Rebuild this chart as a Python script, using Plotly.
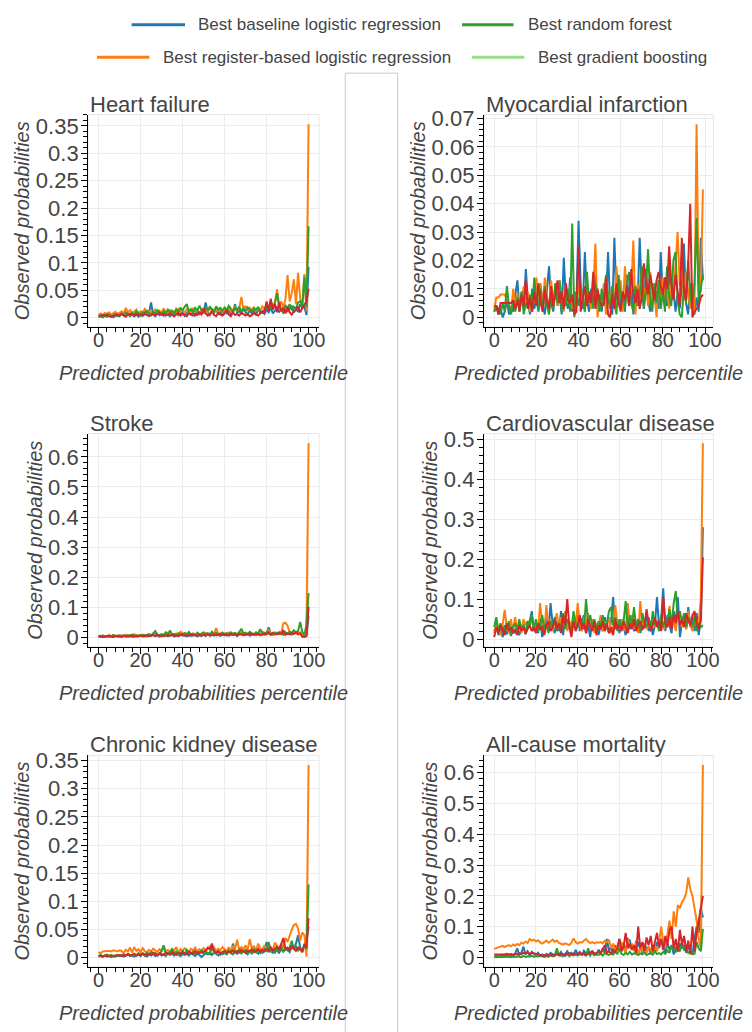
import plotly.graph_objects as go

W, H = 752, 1032

# ---------------- data ----------------
series_names = [
    "Best baseline logistic regression",
    "Best register-based logistic regression",
    "Best random forest",
    "Best gradient boosting",
]
line_colors = ["#1f77b4", "#ff7f0e", "#2ca02c", "#d62728"]
legend_colors = ["#1f77b4", "#ff7f0e", "#2ca02c", "#98df8a"]

panel_titles = [
    "Heart failure", "Myocardial infarction", "Stroke",
    "Cardiovascular disease", "Chronic kidney disease", "All-cause mortality",
]
x_title = "Predicted probabilities percentile"
y_title = "Observed probabilities"

percentiles_101 = list(range(0, 101))
percentiles_100 = list(range(0, 100))

# Heart failure
hf_baseline = [
    0.002, 0.003, 0.001, 0.004, 0.002, 0.005, 0.003, 0.001, 0.004, 0.006,
    0.003, 0.008, 0.005, 0.002, 0.007, 0.004, 0.009, 0.003, 0.006, 0.002,
    0.008, 0.004, 0.010, 0.005, 0.007, 0.028, 0.006, 0.003, 0.011, 0.005,
    0.009, 0.004, 0.012, 0.006, 0.003, 0.010, 0.007, 0.014, 0.005, 0.008,
    0.011, 0.004, 0.009, 0.013, 0.006, 0.010, 0.003, 0.012, 0.007, 0.015,
    0.008, 0.028, 0.010, 0.005, 0.013, 0.009, 0.016, 0.006, 0.011, 0.004,
    0.012, 0.008, 0.015, 0.006, 0.010, 0.025, 0.009, 0.013, 0.007, 0.018,
    0.010, 0.006, 0.014, 0.008, 0.012, 0.005, 0.016, 0.009, 0.011, 0.007,
    0.015, 0.010, 0.018, 0.008, 0.013, 0.020, 0.011, 0.016, 0.009, 0.014,
    0.012, 0.018, 0.022, 0.010, 0.015, 0.012, 0.025, 0.018, 0.020, 0.005,
    0.093]
hf_register = [
    0.006, 0.008, 0.005, 0.009, 0.007, 0.010, 0.006, 0.008, 0.011, 0.007,
    0.009, 0.012, 0.008, 0.018, 0.010, 0.014, 0.009, 0.011, 0.015, 0.008,
    0.012, 0.010, 0.016, 0.009, 0.013, 0.011, 0.008, 0.015, 0.010, 0.013,
    0.009, 0.017, 0.011, 0.008, 0.014, 0.010, 0.012, 0.009, 0.016, 0.011,
    0.013, 0.010, 0.015, 0.008, 0.012, 0.018, 0.010, 0.014, 0.009, 0.013,
    0.011, 0.016, 0.010, 0.019, 0.012, 0.009, 0.015, 0.011, 0.017, 0.010,
    0.014, 0.012, 0.018, 0.011, 0.016, 0.020, 0.013, 0.017, 0.038, 0.015,
    0.022, 0.012, 0.018, 0.014, 0.020, 0.011, 0.017, 0.013, 0.021, 0.016,
    0.025, 0.018, 0.030, 0.020, 0.028, 0.052, 0.022, 0.030, 0.018, 0.035,
    0.078, 0.030, 0.045, 0.070, 0.025, 0.082, 0.035, 0.020, 0.080, 0.012,
    0.353]
hf_forest = [
    0.002, 0.004, 0.001, 0.005, 0.003, 0.006, 0.002, 0.004, 0.007, 0.003,
    0.005, 0.008, 0.004, 0.010, 0.006, 0.003, 0.009, 0.005, 0.012, 0.007,
    0.004, 0.010, 0.006, 0.013, 0.008, 0.005, 0.011, 0.007, 0.014, 0.009,
    0.006, 0.012, 0.008, 0.015, 0.010, 0.013, 0.007, 0.016, 0.011, 0.018,
    0.014, 0.020, 0.025, 0.012, 0.016, 0.010, 0.018, 0.013, 0.022, 0.015,
    0.011, 0.019, 0.014, 0.020, 0.016, 0.012, 0.021, 0.015, 0.018, 0.013,
    0.019, 0.014, 0.022, 0.016, 0.011, 0.018, 0.014, 0.020, 0.012, 0.017,
    0.013, 0.019, 0.015, 0.011, 0.017, 0.014, 0.020, 0.012, 0.009, 0.015,
    0.018, 0.013, 0.022, 0.016, 0.028, 0.045, 0.020, 0.015, 0.010, 0.022,
    0.018, 0.025, 0.014, 0.020, 0.016, 0.028, 0.030, 0.022, 0.075, 0.020,
    0.167]
hf_boosting = [
    0.003, 0.004, 0.005, 0.004, 0.006, 0.003, 0.002, 0.004, 0.005, 0.006,
    0.004, 0.007, 0.005, 0.003, 0.006, 0.008, 0.005, 0.004, 0.007, 0.006,
    0.005, 0.004, 0.008, 0.006, 0.003, 0.005, 0.007, 0.004, 0.006, 0.009,
    0.005, 0.007, 0.004, 0.006, 0.008, 0.005, 0.003, 0.006, 0.009, 0.004,
    0.007, 0.005, 0.003, 0.008, 0.006, 0.004, 0.007, 0.005, 0.010, 0.006,
    0.018, 0.008, 0.004, 0.007, 0.012, 0.005, 0.003, 0.009, 0.006, 0.004,
    0.008, 0.015, 0.006, 0.003, 0.010, 0.005, 0.007, 0.004, 0.009, 0.006,
    0.004, 0.007, 0.003, 0.005, 0.009, 0.006, 0.004, 0.008, 0.012, 0.010,
    0.030, 0.012, 0.035, 0.015, 0.025, 0.010, 0.028, 0.012, 0.018, 0.008,
    0.020, 0.010, 0.006, 0.012, 0.015, 0.020, 0.010, 0.018, 0.025, 0.030,
    0.053]

# Myocardial infarction (percentiles 0..99)
mi_baseline = [
    0.002, 0.004, 0.001, 0.003, 0.000, 0.002, 0.006, 0.001, 0.004, 0.002,
    0.008, 0.013, 0.002, 0.009, 0.003, 0.017, 0.005, 0.001, 0.010, 0.003,
    0.007, 0.002, 0.011, 0.004, 0.001, 0.009, 0.018, 0.005, 0.002, 0.012,
    0.004, 0.008, 0.001, 0.021, 0.006, 0.003, 0.014, 0.002, 0.009, 0.005,
    0.034, 0.012, 0.003, 0.023, 0.006, 0.002, 0.010, 0.004, 0.015, 0.003,
    0.008, 0.002, 0.011, 0.005, 0.023, 0.004, 0.001, 0.028, 0.006, 0.013,
    0.003, 0.009, 0.002, 0.015, 0.005, 0.011, 0.001, 0.007, 0.004, 0.028,
    0.010, 0.003, 0.017, 0.006, 0.002, 0.012, 0.005, 0.009, 0.003, 0.023,
    0.007, 0.014, 0.004, 0.019, 0.006, 0.010, 0.002, 0.008, 0.003, 0.011,
    0.026, 0.005, 0.001, 0.012, 0.004, 0.001, 0.007, 0.002, 0.028, 0.013]
mi_register = [
    0.003, 0.007, 0.007, 0.008, 0.008, 0.008, 0.006, 0.004, 0.002, 0.010,
    0.005, 0.008, 0.003, 0.006, 0.011, 0.004, 0.009, 0.002, 0.007, 0.005,
    0.014, 0.006, 0.012, 0.003, 0.014, 0.008, 0.002, 0.013, 0.005, 0.009,
    0.004, 0.013, 0.007, 0.002, 0.010, 0.005, 0.011, 0.003, 0.008, 0.006,
    0.012, 0.004, 0.009, 0.002, 0.011, 0.006, 0.003, 0.010, 0.026, 0.000,
    0.007, 0.004, 0.012, 0.001, 0.009, 0.005, 0.011, 0.003, 0.018, 0.006,
    0.013, 0.002, 0.018, 0.007, 0.004, 0.010, 0.027, 0.001, 0.012, 0.005,
    0.015, 0.008, 0.011, 0.004, 0.016, 0.006, 0.009, 0.000, 0.013, 0.007,
    0.014, 0.005, 0.010, 0.003, 0.012, 0.008, 0.018, 0.030, 0.011, 0.022,
    0.006, 0.016, 0.009, 0.003, 0.012, 0.002, 0.068, 0.010, 0.009, 0.045]
mi_forest = [
    0.002, 0.004, 0.003, 0.001, 0.005, 0.002, 0.011, 0.004, 0.001, 0.006,
    0.002, 0.007, 0.004, 0.009, 0.001, 0.005, 0.003, 0.008, 0.002, 0.014,
    0.006, 0.003, 0.010, 0.002, 0.011, 0.004, 0.001, 0.008, 0.003, 0.012,
    0.005, 0.013, 0.002, 0.007, 0.004, 0.010, 0.002, 0.033, 0.000, 0.008,
    0.004, 0.011, 0.006, 0.002, 0.016, 0.005, 0.009, 0.003, 0.012, 0.006,
    0.002, 0.010, 0.004, 0.015, 0.007, 0.003, 0.011, 0.005, 0.001, 0.015,
    0.006, 0.009, 0.003, 0.012, 0.016, 0.005, 0.002, 0.011, 0.004, 0.008,
    0.018, 0.003, 0.010, 0.024, 0.006, 0.002, 0.012, 0.005, 0.013, 0.003,
    0.009, 0.002, 0.018, 0.007, 0.004, 0.020, 0.023, 0.006, 0.001, 0.000,
    0.011, 0.005, 0.020, 0.008, 0.003, 0.012, 0.035, 0.005, 0.010, 0.015]
mi_boosting = [
    0.004, 0.004, 0.001, 0.005, 0.005, 0.005, 0.005, 0.005, 0.005, 0.006,
    0.003, 0.006, 0.002, 0.008, 0.004, 0.013, 0.003, 0.007, 0.002, 0.009,
    0.004, 0.012, 0.005, 0.002, 0.010, 0.006, 0.003, 0.011, 0.004, 0.008,
    0.013, 0.005, 0.009, 0.003, 0.012, 0.006, 0.005, 0.008, 0.001, 0.002,
    0.025, 0.002, 0.007, 0.011, 0.004, 0.009, 0.005, 0.016, 0.003, 0.010,
    0.006, 0.004, 0.005, 0.014, 0.001, 0.000, 0.008, 0.003, 0.012, 0.005,
    0.002, 0.009, 0.006, 0.011, 0.004, 0.017, 0.008, 0.005, 0.010, 0.003,
    0.007, 0.019, 0.012, 0.008, 0.015, 0.010, 0.006, 0.013, 0.016, 0.011,
    0.008, 0.014, 0.010, 0.025, 0.012, 0.006, 0.015, 0.009, 0.004, 0.028,
    0.010, 0.006, 0.018, 0.040, 0.000, 0.002, 0.003, 0.004, 0.007, 0.008]

# Stroke
st_baseline = [
    0.003, 0.005, 0.002, 0.004, 0.006, 0.003, 0.005, 0.002, 0.007, 0.004,
    0.006, 0.003, 0.005, 0.008, 0.004, 0.006, 0.003, 0.007, 0.005, 0.004,
    0.008, 0.005, 0.006, 0.004, 0.009, 0.006, 0.010, 0.005, 0.007, 0.004,
    0.008, 0.006, 0.010, 0.005, 0.007, 0.009, 0.004, 0.008, 0.006, 0.011,
    0.007, 0.009, 0.005, 0.012, 0.006, 0.008, 0.010, 0.005, 0.009, 0.007,
    0.011, 0.006, 0.013, 0.008, 0.010, 0.007, 0.012, 0.009, 0.006, 0.011,
    0.008, 0.013, 0.007, 0.010, 0.009, 0.012, 0.006, 0.011, 0.014, 0.008,
    0.010, 0.013, 0.007, 0.012, 0.009, 0.015, 0.011, 0.008, 0.013, 0.010,
    0.012, 0.035, 0.014, 0.009, 0.016, 0.011, 0.013, 0.018, 0.010, 0.015,
    0.012, 0.017, 0.010, 0.014, 0.019, 0.011, 0.016, 0.005, 0.004, 0.008,
    0.072]
st_register = [
    0.005, 0.003, 0.007, 0.004, 0.006, 0.008, 0.005, 0.009, 0.006, 0.007,
    0.004, 0.008, 0.006, 0.010, 0.005, 0.009, 0.007, 0.012, 0.006, 0.008,
    0.010, 0.007, 0.009, 0.006, 0.011, 0.008, 0.013, 0.015, 0.009, 0.007,
    0.011, 0.008, 0.010, 0.016, 0.009, 0.012, 0.007, 0.014, 0.010, 0.020,
    0.015, 0.009, 0.012, 0.018, 0.010, 0.013, 0.008, 0.015, 0.011, 0.014,
    0.010, 0.016, 0.012, 0.009, 0.018, 0.013, 0.032, 0.011, 0.015, 0.010,
    0.014, 0.012, 0.017, 0.010, 0.013, 0.016, 0.011, 0.014, 0.018, 0.012,
    0.015, 0.011, 0.016, 0.013, 0.010, 0.017, 0.014, 0.012, 0.020, 0.015,
    0.013, 0.025, 0.015, 0.011, 0.018, 0.014, 0.020, 0.016, 0.048, 0.050,
    0.040, 0.018, 0.014, 0.022, 0.015, 0.012, 0.018, 0.010, 0.002, 0.030,
    0.645]
st_forest = [
    0.006, 0.004, 0.008, 0.003, 0.005, 0.007, 0.004, 0.009, 0.005, 0.006,
    0.008, 0.005, 0.007, 0.004, 0.009, 0.006, 0.010, 0.005, 0.008, 0.007,
    0.006, 0.010, 0.007, 0.009, 0.012, 0.008, 0.015, 0.022, 0.010, 0.008,
    0.012, 0.009, 0.018, 0.011, 0.024, 0.010, 0.013, 0.008, 0.015, 0.011,
    0.009, 0.016, 0.012, 0.019, 0.010, 0.014, 0.008, 0.017, 0.011, 0.013,
    0.018, 0.010, 0.015, 0.012, 0.020, 0.011, 0.016, 0.013, 0.009, 0.017,
    0.012, 0.015, 0.010, 0.018, 0.013, 0.016, 0.011, 0.019, 0.030, 0.014,
    0.017, 0.012, 0.020, 0.015, 0.011, 0.018, 0.014, 0.028, 0.016, 0.012,
    0.019, 0.014, 0.010, 0.017, 0.013, 0.016, 0.012, 0.015, 0.011, 0.018,
    0.014, 0.020, 0.016, 0.025, 0.018, 0.022, 0.052, 0.020, 0.008, 0.045,
    0.148]
st_boosting = [
    0.004, 0.006, 0.003, 0.005, 0.004, 0.007, 0.005, 0.003, 0.006, 0.004,
    0.005, 0.003, 0.007, 0.004, 0.006, 0.005, 0.008, 0.004, 0.006, 0.005,
    0.007, 0.004, 0.006, 0.008, 0.005, 0.007, 0.009, 0.006, 0.010, 0.007,
    0.005, 0.008, 0.006, 0.009, 0.007, 0.010, 0.006, 0.008, 0.005, 0.009,
    0.011, 0.007, 0.009, 0.006, 0.012, 0.008, 0.010, 0.007, 0.009, 0.006,
    0.010, 0.008, 0.012, 0.007, 0.009, 0.011, 0.008, 0.010, 0.013, 0.009,
    0.011, 0.008, 0.010, 0.012, 0.009, 0.011, 0.008, 0.013, 0.010, 0.012,
    0.009, 0.011, 0.014, 0.010, 0.012, 0.009, 0.013, 0.011, 0.010, 0.014,
    0.012, 0.018, 0.010, 0.015, 0.011, 0.013, 0.016, 0.012, 0.025, 0.010,
    0.014, 0.011, 0.016, 0.012, 0.018, 0.013, 0.015, 0.004, 0.003, 0.006,
    0.103]

# Cardiovascular disease
cvd_baseline = [
    0.020, 0.035, 0.010, 0.028, 0.005, 0.025, 0.012, 0.030, 0.008, 0.022,
    0.015, 0.030, 0.010, 0.025, 0.040, 0.012, 0.028, 0.045, 0.070, 0.020,
    0.035, 0.015, 0.050, 0.005, 0.030, 0.060, 0.020, 0.090, 0.035, 0.015,
    0.045, 0.020, 0.070, 0.010, 0.055, 0.025, 0.040, 0.015, 0.050, 0.030,
    0.075, 0.020, 0.045, 0.060, 0.015, 0.035, 0.005, 0.050, 0.025, 0.040,
    0.010, 0.035, 0.020, 0.055, 0.030, 0.015, 0.045, 0.105, 0.025, 0.040,
    0.015, 0.050, 0.030, 0.010, 0.045, 0.025, 0.060, 0.020, 0.035, 0.050,
    0.015, 0.040, 0.030, 0.065, 0.020, 0.045, 0.010, 0.035, 0.105, 0.030,
    0.050, 0.127, 0.020, 0.060, 0.035, 0.015, 0.070, 0.040, 0.105, 0.005,
    0.045, 0.060, 0.025, 0.080, 0.030, 0.055, 0.020, 0.065, 0.010, 0.050,
    0.280]
cvd_register = [
    0.015, 0.040, 0.025, 0.010, 0.035, 0.073, 0.030, 0.015, 0.050, 0.020,
    0.055, 0.025, 0.040, 0.015, 0.050, 0.035, 0.045, 0.030, 0.060, 0.025,
    0.040, 0.020, 0.090, 0.035, 0.015, 0.085, 0.030, 0.050, 0.020, 0.045,
    0.065, 0.025, 0.055, 0.035, 0.070, 0.020, 0.045, 0.030, 0.060, 0.025,
    0.090, 0.040, 0.020, 0.055, 0.035, 0.065, 0.025, 0.050, 0.015, 0.040,
    0.030, 0.060, 0.020, 0.045, 0.035, 0.055, 0.015, 0.030, 0.085, 0.040,
    0.025, 0.050, 0.035, 0.020, 0.090, 0.030, 0.060, 0.025, 0.045, 0.015,
    0.095, 0.035, 0.050, 0.025, 0.040, 0.020, 0.055, 0.030, 0.045, 0.020,
    0.060, 0.025, 0.040, 0.030, 0.083, 0.035, 0.050, 0.020, 0.065, 0.040,
    0.030, 0.055, 0.025, 0.070, 0.035, 0.020, 0.050, 0.030, 0.045, 0.100,
    0.490]
cvd_forest = [
    0.030, 0.055, 0.020, 0.040, 0.015, 0.035, 0.025, 0.045, 0.010, 0.030,
    0.040, 0.020, 0.050, 0.025, 0.035, 0.015, 0.045, 0.030, 0.060, 0.025,
    0.050, 0.020, 0.035, 0.060, 0.025, 0.040, 0.015, 0.045, 0.030, 0.055,
    0.020, 0.040, 0.030, 0.065, 0.025, 0.050, 0.035, 0.020, 0.070, 0.040,
    0.030, 0.055, 0.045, 0.025, 0.100, 0.040, 0.060, 0.030, 0.050, 0.020,
    0.045, 0.030, 0.060, 0.025, 0.040, 0.070, 0.080, 0.035, 0.055, 0.020,
    0.050, 0.030, 0.045, 0.095, 0.025, 0.060, 0.035, 0.080, 0.030, 0.050,
    0.020, 0.065, 0.040, 0.030, 0.055, 0.025, 0.070, 0.035, 0.045, 0.020,
    0.060, 0.030, 0.050, 0.040, 0.075, 0.035, 0.090, 0.120, 0.050, 0.070,
    0.040, 0.065, 0.030, 0.055, 0.045, 0.030, 0.060, 0.020, 0.040, 0.030,
    0.035]
cvd_boosting = [
    0.005, 0.030, 0.015, 0.035, 0.025, 0.010, 0.040, 0.020, 0.030, 0.015,
    0.025, 0.010, 0.035, 0.020, 0.030, 0.015, 0.025, 0.035, 0.020, 0.030,
    0.015, 0.040, 0.025, 0.030, 0.010, 0.035, 0.045, 0.020, 0.030, 0.050,
    0.025, 0.040, 0.015, 0.060, 0.035, 0.100, 0.030, 0.005, 0.045, 0.020,
    0.035, 0.060, 0.025, 0.040, 0.015, 0.050, 0.030, 0.020, 0.045, 0.010,
    0.035, 0.025, 0.045, 0.020, 0.040, 0.015, 0.030, 0.010, 0.050, 0.025,
    0.035, 0.020, 0.045, 0.030, 0.015, 0.040, 0.025, 0.050, 0.020, 0.035,
    0.045, 0.025, 0.030, 0.075, 0.040, 0.020, 0.035, 0.055, 0.030, 0.045,
    0.020, 0.105, 0.040, 0.030, 0.055, 0.025, 0.060, 0.040, 0.070, 0.035,
    0.050, 0.030, 0.065, 0.045, 0.035, 0.060, 0.070, 0.040, 0.025, 0.050,
    0.205]

# Chronic kidney disease
ckd_baseline = [
    0.002, 0.003, 0.001, 0.004, 0.002, 0.003, 0.001, 0.003, 0.002, 0.004,
    0.003, 0.005, 0.002, 0.004, 0.006, 0.003, 0.005, 0.002, 0.004, 0.006,
    0.003, 0.007, 0.004, 0.002, 0.006, 0.004, 0.008, 0.003, 0.005, 0.007,
    0.004, 0.006, 0.003, 0.008, 0.005, 0.007, 0.004, 0.009, 0.006, 0.003,
    0.007, 0.005, 0.009, 0.004, 0.008, 0.006, 0.003, 0.007, 0.005, 0.001,
    0.004, 0.008, 0.006, 0.010, 0.005, 0.009, 0.007, 0.004, 0.008, 0.006,
    0.009, 0.006, 0.011, 0.008, 0.025, 0.012, 0.007, 0.010, 0.008, 0.013,
    0.009, 0.006, 0.012, 0.008, 0.014, 0.010, 0.007, 0.013, 0.009, 0.011,
    0.028, 0.010, 0.014, 0.008, 0.016, 0.012, 0.009, 0.015, 0.011, 0.018,
    0.013, 0.010, 0.020, 0.015, 0.025, 0.040, 0.018, 0.012, 0.022, 0.030,
    0.055]
ckd_register = [
    0.010, 0.008, 0.011, 0.012, 0.012, 0.012, 0.011, 0.013, 0.012, 0.011,
    0.013, 0.012, 0.008, 0.014, 0.011, 0.018, 0.009, 0.019, 0.012, 0.015,
    0.010, 0.017, 0.012, 0.009, 0.014, 0.011, 0.016, 0.013, 0.010, 0.015,
    0.012, 0.018, 0.011, 0.014, 0.009, 0.016, 0.013, 0.019, 0.010, 0.015,
    0.012, 0.017, 0.014, 0.010, 0.016, 0.013, 0.018, 0.011, 0.015, 0.012,
    0.017, 0.013, 0.016, 0.020, 0.014, 0.018, 0.012, 0.016, 0.013, 0.019,
    0.015, 0.012, 0.018, 0.014, 0.020, 0.016, 0.032, 0.013, 0.019, 0.015,
    0.022, 0.014, 0.033, 0.016, 0.021, 0.012, 0.025, 0.017, 0.015, 0.022,
    0.016, 0.024, 0.018, 0.014, 0.027, 0.020, 0.016, 0.025, 0.018, 0.035,
    0.028, 0.040, 0.050, 0.058, 0.060, 0.052, 0.030, 0.045, 0.040, 0.002,
    0.342]
ckd_forest = [
    0.003, 0.005, 0.002, 0.004, 0.006, 0.003, 0.005, 0.002, 0.004, 0.003,
    0.005, 0.003, 0.006, 0.004, 0.007, 0.005, 0.003, 0.006, 0.004, 0.008,
    0.005, 0.007, 0.004, 0.009, 0.006, 0.010, 0.005, 0.008, 0.004, 0.007,
    0.012, 0.022, 0.008, 0.006, 0.010, 0.015, 0.007, 0.011, 0.005, 0.009,
    0.012, 0.006, 0.014, 0.009, 0.007, 0.011, 0.005, 0.010, 0.008, 0.013,
    0.007, 0.011, 0.009, 0.006, 0.020, 0.010, 0.008, 0.012, 0.005, 0.009,
    0.011, 0.007, 0.013, 0.009, 0.006, 0.012, 0.010, 0.015, 0.008, 0.011,
    0.014, 0.009, 0.012, 0.007, 0.016, 0.010, 0.013, 0.008, 0.011, 0.015,
    0.012, 0.028, 0.010, 0.014, 0.009, 0.016, 0.012, 0.020, 0.011, 0.015,
    0.013, 0.018, 0.030, 0.015, 0.020, 0.012, 0.018, 0.010, 0.025, 0.015,
    0.130]
ckd_boosting = [
    0.003, 0.003, 0.003, 0.003, 0.004, 0.003, 0.004, 0.003, 0.004, 0.005,
    0.004, 0.003, 0.005, 0.004, 0.006, 0.004, 0.005, 0.007, 0.004, 0.006,
    0.005, 0.008, 0.006, 0.004, 0.007, 0.005, 0.009, 0.006, 0.004, 0.008,
    0.006, 0.005, 0.009, 0.007, 0.006, 0.010, 0.008, 0.005, 0.009, 0.007,
    0.010, 0.008, 0.006, 0.011, 0.009, 0.007, 0.012, 0.008, 0.010, 0.009,
    0.011, 0.013, 0.018, 0.015, 0.025, 0.012, 0.009, 0.011, 0.008, 0.010,
    0.012, 0.009, 0.011, 0.010, 0.013, 0.009, 0.012, 0.010, 0.014, 0.011,
    0.009, 0.013, 0.011, 0.015, 0.010, 0.012, 0.016, 0.011, 0.014, 0.012,
    0.015, 0.012, 0.018, 0.013, 0.016, 0.020, 0.014, 0.025, 0.035, 0.015,
    0.018, 0.014, 0.020, 0.016, 0.012, 0.018, 0.015, 0.010, 0.022, 0.020,
    0.070]

# All-cause mortality
acm_baseline = [
    0.002, 0.005, 0.001, 0.004, 0.008, 0.003, 0.006, 0.002, 0.010, 0.004,
    0.012, 0.030, 0.008, 0.015, 0.035, 0.010, 0.020, 0.006, 0.018, 0.012,
    0.008, 0.015, 0.005, 0.010, 0.003, 0.012, 0.007, 0.015, 0.010, 0.006,
    0.014, 0.008, 0.018, 0.005, 0.012, 0.020, 0.008, 0.015, 0.006, 0.025,
    0.010, 0.018, 0.008, 0.022, 0.012, 0.016, 0.006, 0.020, 0.014, 0.010,
    0.025, 0.012, 0.030, 0.015, 0.060, 0.020, 0.035, 0.012, 0.040, 0.025,
    0.060, 0.030, 0.045, 0.020, 0.060, 0.055, 0.025, 0.040, 0.015, 0.050,
    0.030, 0.015, 0.045, 0.025, 0.035, 0.010, 0.040, 0.020, 0.050, 0.030,
    0.060, 0.035, 0.015, 0.045, 0.025, 0.040, 0.010, 0.035, 0.020, 0.045,
    0.030, 0.040, 0.015, 0.035, 0.020, 0.010, 0.060, 0.100, 0.080, 0.160,
    0.130]
acm_register = [
    0.028, 0.030, 0.033, 0.035, 0.038, 0.034, 0.037, 0.040, 0.036, 0.042,
    0.038, 0.044, 0.040, 0.048, 0.045, 0.052, 0.047, 0.060, 0.055, 0.058,
    0.052, 0.056, 0.049, 0.045, 0.050, 0.055, 0.048, 0.053, 0.058, 0.051,
    0.055, 0.047, 0.045, 0.042, 0.046, 0.044, 0.040, 0.048, 0.062, 0.050,
    0.045, 0.050, 0.048, 0.055, 0.060, 0.052, 0.047, 0.050, 0.046, 0.049,
    0.048, 0.050, 0.046, 0.055, 0.050, 0.058, 0.030, 0.045, 0.020, 0.040,
    0.025, 0.050, 0.035, 0.015, 0.060, 0.030, 0.045, 0.020, 0.055, 0.010,
    0.030, 0.020, 0.045, 0.015, 0.035, 0.025, 0.010, 0.040, 0.020, 0.050,
    0.100, 0.050, 0.030, 0.080, 0.120, 0.060, 0.150, 0.100, 0.170, 0.160,
    0.180, 0.190, 0.210, 0.260, 0.220, 0.200, 0.160, 0.120, 0.060, 0.030,
    0.625]
acm_forest = [
    0.002, 0.001, 0.003, 0.002, 0.001, 0.003, 0.002, 0.004, 0.001, 0.003,
    0.002, 0.004, 0.003, 0.001, 0.005, 0.002, 0.004, 0.003, 0.006, 0.002,
    0.005, 0.003, 0.006, 0.004, 0.002, 0.005, 0.003, 0.007, 0.004, 0.006,
    0.030, 0.008, 0.005, 0.010, 0.006, 0.012, 0.004, 0.009, 0.007, 0.011,
    0.006, 0.010, 0.008, 0.012, 0.005, 0.030, 0.009, 0.013, 0.007, 0.010,
    0.008, 0.012, 0.006, 0.015, 0.010, 0.008, 0.013, 0.009, 0.020, 0.011,
    0.030, 0.012, 0.008, 0.015, 0.010, 0.018, 0.009, 0.014, 0.011, 0.008,
    0.013, 0.010, 0.016, 0.008, 0.012, 0.015, 0.009, 0.020, 0.011, 0.014,
    0.010, 0.018, 0.012, 0.022, 0.015, 0.040, 0.025, 0.018, 0.030, 0.020,
    0.045, 0.025, 0.030, 0.015, 0.020, 0.010, 0.012, 0.050, 0.030, 0.020,
    0.093]
acm_boosting = [
    0.010, 0.010, 0.010, 0.010, 0.008, 0.010, 0.012, 0.010, 0.011, 0.009,
    0.012, 0.010, 0.014, 0.011, 0.015, 0.013, 0.016, 0.012, 0.015, 0.014,
    0.013, 0.010, 0.008, 0.006, 0.008, 0.005, 0.007, 0.009, 0.006, 0.008,
    0.010, 0.007, 0.012, 0.009, 0.006, 0.011, 0.014, 0.010, 0.013, 0.009,
    0.012, 0.015, 0.010, 0.013, 0.008, 0.012, 0.016, 0.020, 0.011, 0.015,
    0.018, 0.013, 0.025, 0.040, 0.015, 0.020, 0.012, 0.025, 0.018, 0.030,
    0.060, 0.020, 0.035, 0.080, 0.030, 0.045, 0.025, 0.040, 0.015, 0.100,
    0.030, 0.050, 0.020, 0.065, 0.040, 0.070, 0.020, 0.055, 0.080, 0.035,
    0.060, 0.025, 0.070, 0.040, 0.090, 0.100, 0.030, 0.060, 0.020, 0.090,
    0.040, 0.070, 0.020, 0.055, 0.010, 0.100, 0.020, 0.080, 0.120, 0.160,
    0.200]

panel_x = [percentiles_101, percentiles_100, percentiles_101,
           percentiles_101, percentiles_101, percentiles_101]
panel_series = [
    [hf_baseline, hf_register, hf_forest, hf_boosting],
    [mi_baseline, mi_register, mi_forest, mi_boosting],
    [st_baseline, st_register, st_forest, st_boosting],
    [cvd_baseline, cvd_register, cvd_forest, cvd_boosting],
    [ckd_baseline, ckd_register, ckd_forest, ckd_boosting],
    [acm_baseline, acm_register, acm_forest, acm_boosting],
]
y_tick_steps = [0.05, 0.01, 0.1, 0.1, 0.05, 0.1]

# ---------------- layout helpers ----------------
def px_x(p):
    return p / W

def px_y(p):
    return 1 - p / H

col_px = [(89, 322.5), (489, 721)]
row_px = [(108, 323), (431, 647), (757, 971)]

FONT = "Liberation Sans, Arial, Helvetica, sans-serif"
TXT = "#444444"

fig = go.Figure()
layout = dict(
    width=W, height=H, margin=dict(l=0, r=0, t=0, b=0),
    paper_bgcolor="white", plot_bgcolor="white", showlegend=False,
    font=dict(family=FONT, color=TXT),
)
shapes = []
annotations = []

for i in range(6):
    r, c = divmod(i, 2)
    s = "" if i == 0 else str(i + 1)
    xs = panel_x[i]
    for k, ys in enumerate(panel_series[i]):
        fig.add_trace(go.Scatter(
            x=xs, y=ys, mode="lines", name=series_names[k],
            line=dict(color=line_colors[k], width=2),
            xaxis="x" + s, yaxis="y" + s, showlegend=False,
        ))
    allv = [v for ys in panel_series[i] for v in ys]
    ymin, ymax = min(allv), max(allv)
    ypad = 0.05 * (ymax - ymin)
    xmin, xmax = min(xs), max(xs)
    xpad = 0.05 * (xmax - xmin)
    step = y_tick_steps[i]
    x0p, x1p = col_px[c]
    y0p, y1p = row_px[r]
    layout["xaxis" + s] = dict(
        domain=[px_x(x0p), px_x(x1p)], anchor="y" + s,
        range=[xmin - xpad, xmax + xpad],
        tickmode="linear", tick0=0, dtick=20,
        ticks="outside", ticklen=6, tickcolor="#000", tickwidth=1,
        ticklabelstandoff=-11,
        showline=True, linecolor="#000", linewidth=1,
        showgrid=True, gridcolor="#ececec", zeroline=False,
        tickfont=dict(size=20, color=TXT, family=FONT),
        minor=dict(ticks="outside", ticklen=4, dtick=4, tick0=0,
                   tickcolor="#000", showgrid=False),
        title=dict(text=x_title, standoff=16,
                   font=dict(size=20, style="italic", color=TXT, family=FONT)),
    )
    layout["yaxis" + s] = dict(
        domain=[px_y(y1p), px_y(y0p)], anchor="x" + s,
        range=[ymin - ypad, ymax + ypad],
        tickmode="linear", tick0=0, dtick=step,
        ticks="outside", ticklen=6, tickcolor="#000", tickwidth=1,
        ticklabelstandoff=-2,
        showline=True, linecolor="#000", linewidth=1,
        showgrid=True, gridcolor="#ececec", zeroline=False,
        tickfont=dict(size=22, color=TXT, family=FONT),
        minor=dict(ticks="outside", ticklen=4, dtick=step / 5, tick0=0,
                   tickcolor="#000", showgrid=False),
        title=dict(text=y_title, standoff=0,
                   font=dict(size=20, style="italic", color=TXT, family=FONT)),
    )
    shapes.append(dict(type="rect", xref="x" + s + " domain", yref="y" + s + " domain",
                       x0=0, x1=1, y0=0, y1=1, line=dict(color="#e5e5e5", width=1),
                       layer="below"))
    annotations.append(dict(
        text=panel_titles[i], showarrow=False,
        xref="x" + s + " domain", yref="y" + s + " domain", x=0, y=1,
        xanchor="left", yanchor="bottom", yshift=-4,
        font=dict(size=22, color=TXT, family=FONT),
    ))

# separator box in the middle
shapes.append(dict(type="rect", xref="paper", yref="paper",
                   x0=px_x(349), x1=px_x(402), y0=-0.02, y1=px_y(66),
                   line=dict(color="#c8c8c8", width=1), fillcolor="rgba(0,0,0,0)",
                   layer="below"))

# legend (drawn manually to mirror the reference layout)
legend_rows = [(17, [(0, 133, 187, 198), (2, 467, 519, 532)]),
               (50, [(1, 98, 151, 163), (3, 477, 530, 542)])]
for ypx, items in legend_rows:
    for k, lx0, lx1, tx in items:
        shapes.append(dict(type="line", xref="paper", yref="paper",
                           x0=px_x(lx0), x1=px_x(lx1), y0=px_y(ypx), y1=px_y(ypx),
                           line=dict(color=legend_colors[k], width=3)))
        annotations.append(dict(text=series_names[k], showarrow=False,
                                xref="paper", yref="paper", x=px_x(tx), y=px_y(ypx),
                                xanchor="left", yanchor="middle",
                                font=dict(size=17, color=TXT, family=FONT)))

layout["shapes"] = shapes
layout["annotations"] = annotations
fig.update_layout(**layout)
fig.write_html("out.html")
